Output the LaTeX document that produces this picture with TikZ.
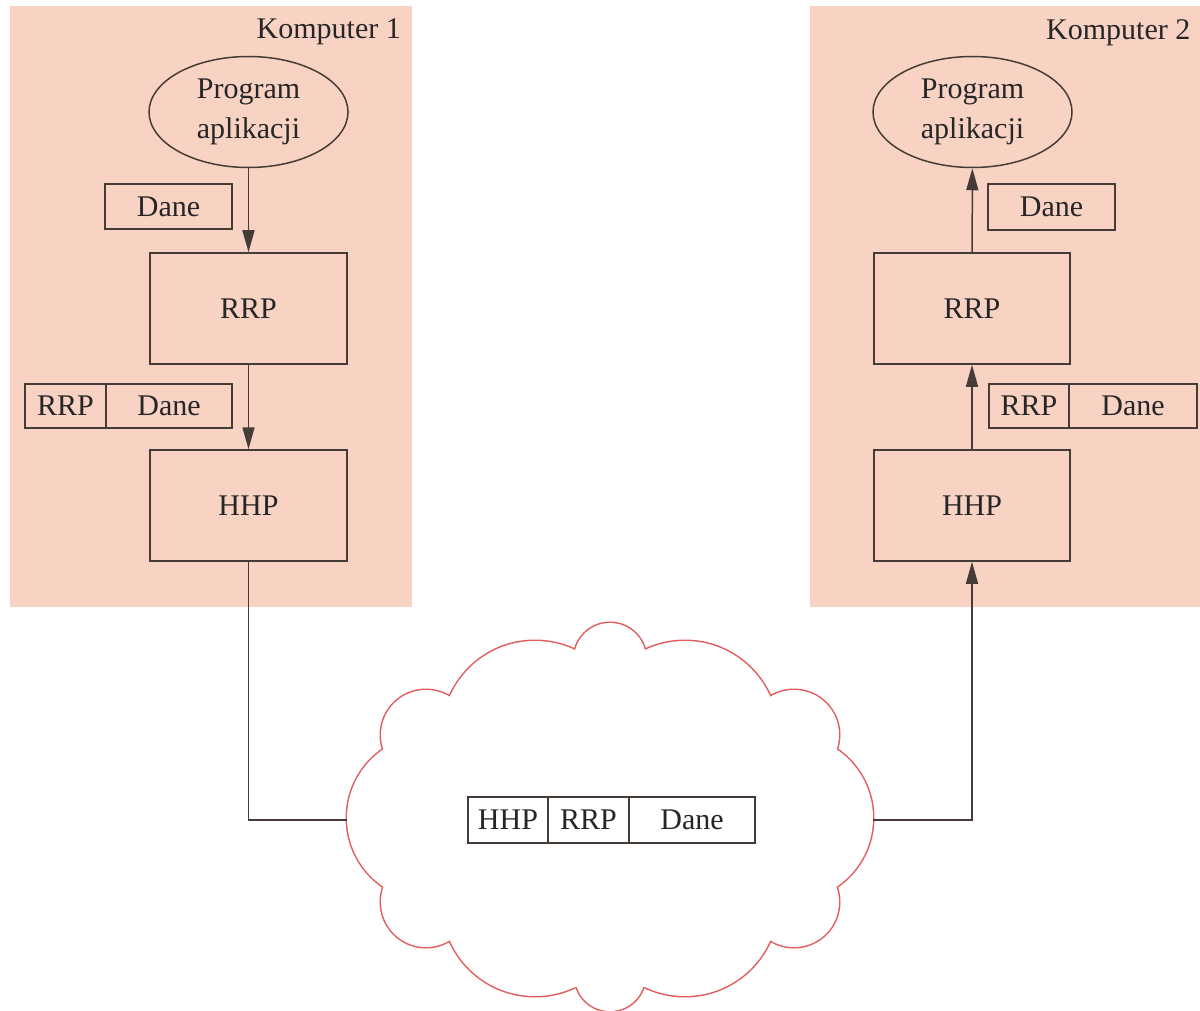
\documentclass[tikz,border=0pt]{standalone}
\usepackage{fontspec}
\setmainfont{Liberation Serif}
\usetikzlibrary{shapes.geometric,arrows.meta}
\definecolor{panel}{RGB}{248,210,195}
\definecolor{cloudred}{RGB}{226,92,92}
\definecolor{ink}{RGB}{70,60,55}
\begin{document}
\begin{tikzpicture}[x=1pt,y=-1pt,
  txt/.style={font=\fontsize{30}{40}\selectfont, text=black!85},
  proc/.style={draw=ink, line width=1.5pt, minimum width=197pt, minimum height=111pt, inner sep=0pt, txt},
  app/.style={draw=ink, ellipse, line width=1.5pt, minimum width=199pt, minimum height=111pt, inner sep=0pt, align=center, txt},
  cell/.style={draw=ink, line width=1.5pt, minimum height=45pt, inner sep=0pt, txt},
  link/.style={draw=ink, line width=1.5pt},
  arr/.style={link, -{Triangle[length=22pt,width=12pt]}},
  cloudline/.style={draw=cloudred, line width=3pt},
]
\useasboundingbox (0,0) rectangle (1200,1011);
\fill[white] (0,0) rectangle (1200,1011);
% panels
\fill[panel] (10,6) rectangle (412,607);
\fill[panel] (810,6) rectangle (1200,607);

\node[txt, anchor=base east, inner sep=0pt] (k1) at (401,39) {Komputer 1};
\node[txt, anchor=base west, inner sep=0pt] (k2) at (1046,40) {Komputer 2};

% left stack
\node[app] (app1) at (248.5,112) {Program\\aplikacji};
\node[proc] (rrp1) at (248.5,308.5) {RRP};
\node[proc] (hhp1) at (248.5,505.5) {HHP};
\node[cell, minimum width=127pt] (d1) at (168.5,206.5) {Dane};
\node[cell, minimum width=81pt, minimum height=44pt] (p1a) at (65.5,406) {RRP};
\node[cell, minimum width=126pt, minimum height=44pt] (p1b) at (169,406) {Dane};

% right stack
\node[app] (app2) at (972.5,112) {Program\\aplikacji};
\node[proc, minimum width=196pt] (rrp2) at (972,308.5) {RRP};
\node[proc, minimum width=196pt] (hhp2) at (972,505.5) {HHP};
\node[cell, minimum width=127pt, minimum height=46pt] (d2) at (1051.5,207) {Dane};
\node[cell, minimum width=80pt, minimum height=44pt] (p2a) at (1029,406) {RRP};
\node[cell, minimum width=128pt, minimum height=44pt] (p2b) at (1133,406) {Dane};

% cloud: union of circles
\foreach \cx/\cy/\r in {430/818/83, 426/735/45, 535/734/93, 610/659/36, 685/734/93, 794/735/45,
                        790/818/83, 794/902/45, 685/903/93, 610/976/35, 535/903/93, 426/902/45}
  \draw[cloudline] (\cx,\cy) circle[radius=\r];
\foreach \cx/\cy/\r in {430/818/83, 426/735/45, 535/734/93, 610/659/36, 685/734/93, 794/735/45,
                        790/818/83, 794/902/45, 685/903/93, 610/976/35, 535/903/93, 426/902/45}
  \fill[white] (\cx,\cy) circle[radius=\r];
\fill[white] (383,750) -- (450,697) -- (575,650) -- (645,652) -- (769,698) -- (836,750)
  -- (836,887) -- (769,938) -- (645,987) -- (575,987) -- (450,938) -- (383,887) -- cycle;
\coordinate (cl) at (347,820);
\coordinate (cr) at (873,820);

% packet in the cloud
\node[cell, minimum width=80pt, minimum height=46pt] (n1) at (508,820) {HHP};
\node[cell, minimum width=81pt, minimum height=46pt] (n2) at (588.5,820) {RRP};
\node[cell, minimum width=126pt, minimum height=46pt] (n3) at (692,820) {Dane};

% connectors
\draw[arr] (app1) -- (rrp1);
\draw[arr] (rrp1) -- (hhp1);
\draw[link] (hhp1.south) |- (cl);
\draw[arr] (cr) -| (hhp2.south);
\draw[arr] (hhp2) -- (rrp2);
\draw[arr] (rrp2) -- (app2);
\end{tikzpicture}
\end{document}
